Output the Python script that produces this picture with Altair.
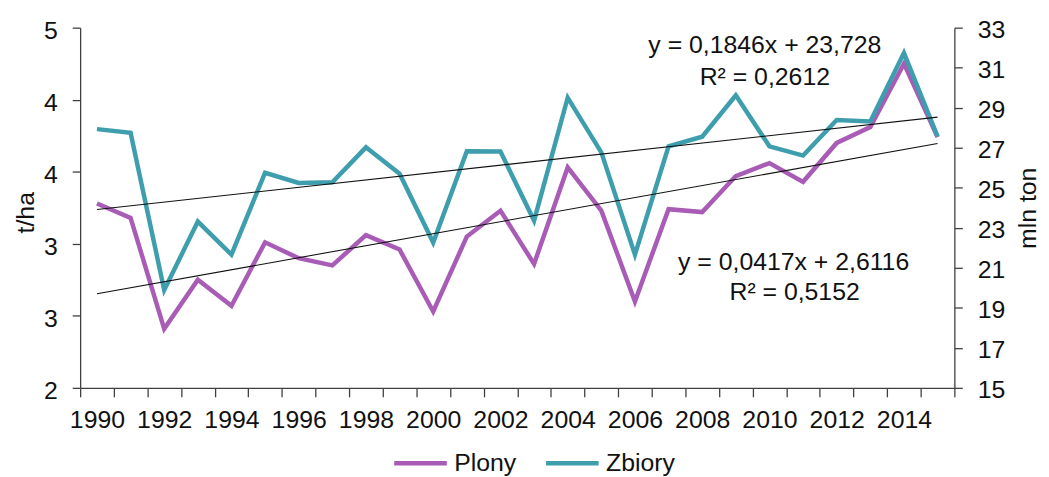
import altair as alt
import pandas as pd

# ---- data ----
years = list(range(1990, 2016))
plony = [3.28, 3.18, 2.41, 2.75, 2.57, 3.01, 2.90, 2.85, 3.06, 2.96, 2.53, 3.05, 3.23,
         2.86, 3.53, 3.23, 2.60, 3.24, 3.22, 3.47, 3.56, 3.43, 3.70, 3.81, 4.25, 3.74]
zbiory = [27.93, 27.75, 19.89, 23.31, 21.66, 25.75, 25.24, 25.27, 27.02, 25.70, 22.26,
          26.82, 26.81, 23.36, 29.50, 26.77, 21.66, 27.07, 27.55, 29.62, 27.07, 26.61,
          28.39, 28.31, 31.73, 27.57]
series_names = ["Plony", "Zbiory"]
series_colors = ["#A85CB6", "#3E9EAD"]
trend_plony_coef = [0.0417, 2.6116]
trend_zbiory_coef = [0.1846, 23.728]
eq_plony = ["y = 0,0417x + 2,6116", "R² = 0,5152"]
eq_zbiory = ["y = 0,1846x + 23,728", "R² = 0,2612"]
left_ticks = [2, 2.5, 3, 3.5, 4, 4.5]
right_ticks = list(range(15, 34, 2))

W, H = 881, 363
FONT = "Liberation Sans"
FS = 25
band = W / len(years)

df_p = pd.DataFrame({"year": years, "value": plony, "series": series_names[0]})
df_z = pd.DataFrame({"year": years, "value": zbiory, "series": series_names[1]})
ends = [1, len(years)]
df_tp = pd.DataFrame({"year": [years[0], years[-1]],
                      "value": [trend_plony_coef[0] * i + trend_plony_coef[1] for i in ends]})
df_tz = pd.DataFrame({"year": [years[0], years[-1]],
                      "value": [trend_zbiory_coef[0] * i + trend_zbiory_coef[1] for i in ends]})

x_ticks = [years[0] - 0.5 + i for i in range(len(years) + 1)]
x_enc = alt.X(
    "year:Q",
    scale=alt.Scale(domain=[years[0] - 0.5, years[-1] + 0.5], nice=False, zero=False),
    axis=alt.Axis(
        values=x_ticks,
        labelExpr="((datum.value + 0.5) % 2 == 0 && datum.value < 2014) ? format(datum.value + 0.5, 'd') : ''",
        labelOffset=band / 2, labelAlign="center", labelOverlap=False, labelFlush=False,
        title=None, tickSize=9, labelPadding=11,
    ),
)

left_scale = alt.Scale(domain=[2, 4.5], nice=False, zero=False)
right_scale = alt.Scale(domain=[15, 33], nice=False, zero=False)

y_left = alt.Y("value:Q", scale=left_scale, axis=alt.Axis(
    orient="left", values=left_ticks, format=".0f", title="t/ha",
    titleAngle=270, titleX=-55, titleY=186, titleAlign="center", titleBaseline="middle",
    tickSize=8, labelPadding=15, labelOffset=3))
y_right = alt.Y("value:Q", scale=right_scale, axis=alt.Axis(
    orient="right", values=right_ticks, format="d", title="mln ton",
    titleAngle=270, titleX=74, titleY=181.5, titleAlign="center", titleBaseline="middle",
    tickSize=8, labelPadding=15, labelOffset=2))

color = alt.Color("series:N", scale=alt.Scale(domain=series_names, range=series_colors),
                  legend=alt.Legend(orient="none", legendX=314, legendY=410,
                                    direction="horizontal", title=None,
                                    symbolType="stroke", symbolSize=2809,
                                    symbolStrokeWidth=4.5, labelFontSize=FS,
                                    labelFont=FONT, labelColor="#111",
                                    columnPadding=20, labelOffset=5, padding=0))

line_p = alt.Chart(df_p).mark_line(strokeWidth=4.5).encode(x=x_enc, y=y_left, color=color)
line_z = alt.Chart(df_z).mark_line(strokeWidth=4.5).encode(x=x_enc, y=y_right, color=color)
trend_p = alt.Chart(df_tp).mark_line(strokeWidth=1.1, color="#111").encode(
    x=x_enc, y=alt.Y("value:Q", scale=left_scale, axis=None))
trend_z = alt.Chart(df_tz).mark_line(strokeWidth=1.1, color="#111").encode(
    x=x_enc, y=alt.Y("value:Q", scale=right_scale, axis=None))


def label(txt, px, py):
    return alt.Chart(pd.DataFrame({"t": [txt]})).mark_text(
        font=FONT, fontSize=FS, align="center", baseline="alphabetic", color="#111"
    ).encode(text="t:N", x=alt.value(px), y=alt.value(py))


texts = [
    label(eq_zbiory[0], 690, 25.7),
    label(eq_zbiory[1], 690, 57.3),
    label(eq_plony[0], 719, 244),
    label(eq_plony[1], 720, 274),
]

chart = alt.layer(line_p, line_z, trend_p, trend_z, *texts).resolve_scale(
    y="independent"
).properties(
    width=W, height=H,
    autosize=alt.AutoSizeParams(type="none"),
    padding={"left": 72.7, "top": 18, "right": 87.3, "bottom": 88},
).configure_view(stroke=None).configure_axis(
    grid=False, domainColor="#404040", tickColor="#404040", domainWidth=1.3, tickWidth=1.3,
    labelColor="#111", labelFont=FONT, labelFontSize=FS,
    titleFont=FONT, titleFontSize=FS, titleColor="#111", titleFontWeight="normal",
)

chart.save("out.html", embed_options={"renderer": "svg", "actions": False})
